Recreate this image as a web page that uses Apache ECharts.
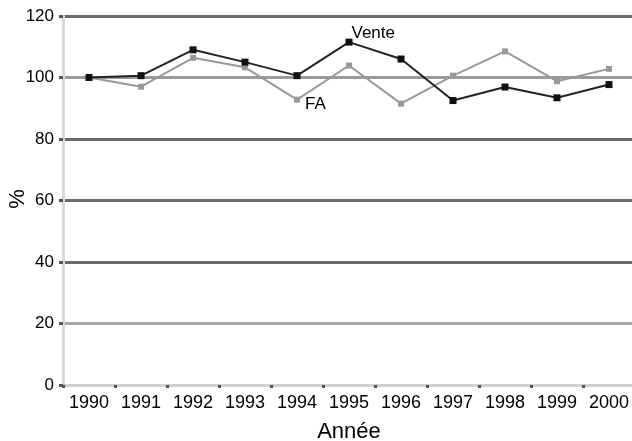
<!DOCTYPE html>
<html>
<head>
<meta charset="utf-8">
<script src="https://cdn.jsdelivr.net/npm/echarts@6/dist/echarts.min.js"></script>
<style>
  html, body { margin: 0; padding: 0; background: #fff; }
  #chart { width: 632px; height: 441px; }
</style>
</head>
<body>
<div id="chart"></div>
<script>
// annees
var annees = ['1990', '1991', '1992', '1993', '1994', '1995', '1996', '1997', '1998', '1999', '2000'];
// Vente (noir)
var vente = [100, 100.6, 109, 105, 100.6, 111.5, 106, 92.5, 96.9, 93.4, 97.7];
// FA (gris)
var fa = [100, 97, 106.4, 103.3, 92.8, 103.9, 91.5, 100.6, 108.5, 98.8, 102.8];
var yTicks = [0, 20, 40, 60, 80, 100, 120];

var myChart = echarts.init(document.getElementById('chart'));

// etiquette seulement sur un point
function labelAt(data, idx, text, pos, off) {
    return data.map(function (v, i) {
        if (i !== idx) return v;
        return {
            value: v,
            label: {
                show: true,
                formatter: text,
                position: pos,
                offset: off,
                color: '#000',
                fontSize: 17,
                fontFamily: 'Liberation Sans, Arial'
            }
        };
    });
}

var option = {
    backgroundColor: '#fff',
    animation: false,
    grid: {
        left: 63,
        right: -3,
        top: 16,
        bottom: 56,
        containLabel: false,
        outerBoundsMode: 'none'
    },
    // titre de l'axe y, tourne
    graphic: [{
        type: 'text',
        x: 18,
        y: 199,
        rotation: Math.PI / 2,
        style: {
            text: '%',
            fill: '#000',
            fontSize: 22,
            fontFamily: 'Liberation Sans, Arial',
            align: 'center',
            verticalAlign: 'middle'
        }
    }],
    xAxis: {
        type: 'category',
        data: annees,
        boundaryGap: true,
        name: 'Année',
        nameLocation: 'middle',
        nameGap: 36,
        nameTextStyle: { color: '#000', fontSize: 22, fontFamily: 'Liberation Sans, Arial' },
        axisLine: { lineStyle: { color: '#d0d0d0', width: 3 } },
        axisTick: { show: true, interval: 0, length: 3, lineStyle: { color: '#555', width: 3 } },
        axisLabel: { color: '#000', fontSize: 18, margin: 9, interval: 0, hideOverlap: false, fontFamily: 'Liberation Sans, Arial' },
        splitLine: { show: false }
    },
    yAxis: {
        type: 'value',
        min: yTicks[0],
        max: yTicks[yTicks.length - 1],
        interval: 20,
        axisLine: { show: true, lineStyle: { color: '#d8d8d8', width: 3 } },
        axisTick: { show: true, length: 4, lineStyle: { color: '#555', width: 3 } },
        axisLabel: { color: '#000', fontSize: 17, margin: 9, fontFamily: 'Liberation Sans, Arial' },
        splitLine: {
            show: true,
            lineStyle: {
                color: ['#d0d0d0', '#a8a8a8', '#6a6a6a', '#6a6a6a', '#6a6a6a', '#9a9a9a', '#6a6a6a'],
                width: 3
            }
        }
    },
    series: [{
        name: 'FA',
        type: 'line',
        data: labelAt(fa, 4, 'FA', 'right', [0, 5]),
        symbol: 'rect',
        symbolSize: 6,
        lineStyle: { color: '#999', width: 2 },
        itemStyle: { color: '#999' },
        z: 3
    }, {
        name: 'Vente',
        type: 'line',
        data: labelAt(vente, 5, 'Vente', 'right', [-6, -9]),
        symbol: 'rect',
        symbolSize: 7,
        lineStyle: { color: '#222', width: 2 },
        itemStyle: { color: '#111' },
        z: 4
    }]
};

myChart.setOption(option);
</script>
</body>
</html>
